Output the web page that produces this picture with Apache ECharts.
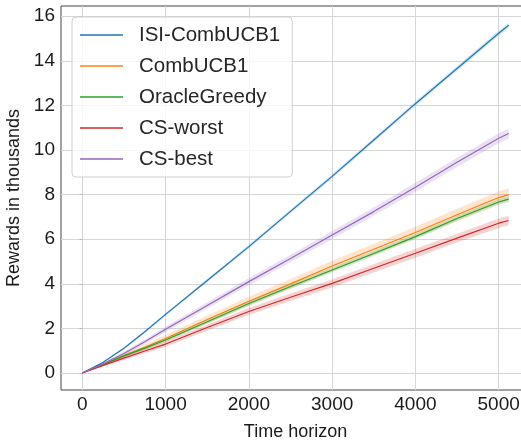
<!DOCTYPE html>
<html>
<head>
<meta charset="utf-8">
<script src="https://cdn.jsdelivr.net/npm/echarts@6/dist/echarts.min.js"></script>
<style>
  html, body { margin: 0; padding: 0; background: #fff; }
  #chart { width: 521px; height: 441px; }
</style>
</head>
<body>
<div id="chart"></div>
<script>
// Time steps at which the cumulative rewards are sampled
const timeSteps = [0, 250, 500, 750, 1000, 1500, 2000, 2500, 3000, 3500, 4000, 4500, 5000, 5120];

// Mean cumulative reward (thousands) for each method
const isiCombUCB1 = [0, 0.48, 1.11, 1.85, 2.63, 4.15, 5.67, 7.25, 8.82, 10.45, 12.08, 13.66, 15.24, 15.60];
const combUCB1    = [0, 0.38, 0.78, 1.16, 1.55, 2.40, 3.22, 4.00, 4.80, 5.55, 6.30, 7.10, 7.87, 8.00];
const oracleGreedy= [0, 0.38, 0.77, 1.12, 1.48, 2.30, 3.12, 3.88, 4.62, 5.36, 6.12, 6.93, 7.67, 7.80];
const csWorst     = [0, 0.34, 0.67, 0.99, 1.30, 2.04, 2.76, 3.40, 4.02, 4.70, 5.37, 6.05, 6.72, 6.84];
const csBest      = [0, 0.42, 0.88, 1.40, 1.96, 3.03, 4.10, 5.14, 6.19, 7.24, 8.33, 9.45, 10.53, 10.74];

// Half-width of the confidence band around each mean curve
const isiSpread    = [0, 0.03, 0.04, 0.05, 0.06, 0.07, 0.08, 0.08, 0.09, 0.09, 0.10, 0.10, 0.11, 0.11];
const combSpread   = [0, 0.06, 0.10, 0.13, 0.15, 0.18, 0.20, 0.22, 0.24, 0.25, 0.26, 0.27, 0.28, 0.28];
const oracleSpread = [0, 0.04, 0.06, 0.07, 0.08, 0.09, 0.10, 0.10, 0.11, 0.11, 0.12, 0.12, 0.13, 0.13];
const worstSpread  = [0, 0.05, 0.08, 0.10, 0.12, 0.14, 0.16, 0.17, 0.18, 0.19, 0.20, 0.20, 0.21, 0.21];
const bestSpread   = [0, 0.05, 0.08, 0.10, 0.12, 0.14, 0.16, 0.17, 0.18, 0.19, 0.20, 0.21, 0.22, 0.22];

const xTicks = [0, 1000, 2000, 3000, 4000, 5000];
const yTicks = [0, 2, 4, 6, 8, 10, 12, 14, 16];

const methods = [
  { name: 'ISI-CombUCB1', mean: isiCombUCB1, spread: isiSpread,    color: '#1f77b4' },
  { name: 'CombUCB1',     mean: combUCB1,    spread: combSpread,   color: '#ff7f0e' },
  { name: 'OracleGreedy', mean: oracleGreedy,spread: oracleSpread, color: '#2ca02c' },
  { name: 'CS-worst',     mean: csWorst,     spread: worstSpread,  color: '#d62728' },
  { name: 'CS-best',      mean: csBest,      spread: bestSpread,   color: '#9467bd' }
];

const FONT = "'Liberation Sans', Arial, sans-serif";

const series = [];
methods.forEach(function (m, k) {
  const bandData = timeSteps.map(function (t, i) {
    return [t, m.mean[i] - m.spread[i], m.mean[i] + m.spread[i]];
  });
  // shaded band: one polygon through the upper edge then back along the lower edge
  series.push({
    type: 'custom',
    name: m.name + ' band',
    coordinateSystem: 'cartesian2d',
    silent: true,
    z: 2 + k * 2,
    encode: { x: 0, y: [1, 2] },
    data: bandData,
    renderItem: function (params, api) {
      if (params.dataIndex !== 0) return null;
      const pts = [];
      bandData.forEach(function (d) { pts.push(api.coord([d[0], d[2]])); });
      for (let i = bandData.length - 1; i >= 0; i--) {
        pts.push(api.coord([bandData[i][0], bandData[i][1]]));
      }
      return {
        type: 'polygon',
        shape: { points: pts },
        style: { fill: m.color, opacity: 0.2 }
      };
    }
  });
  series.push({
    type: 'line',
    name: m.name,
    z: 3 + k * 2,
    data: timeSteps.map(function (t, i) { return [t, m.mean[i]]; }),
    showSymbol: false,
    symbol: 'none',
    lineStyle: { color: m.color, width: 1.2 },
    itemStyle: { color: m.color },
    animation: false
  });
});

const chart = echarts.init(document.getElementById('chart'), null, { renderer: 'canvas' });
chart.setOption({
  animation: false,
  backgroundColor: '#ffffff',
  textStyle: { fontFamily: FONT },
  grid: {
    left: 61, top: 6, right: -9, bottom: 51,
    containLabel: false,
    outerBoundsMode: 'none',
    show: true, borderColor: '#444', borderWidth: 1, backgroundColor: 'transparent'
  },
  legend: {
    orient: 'vertical',
    left: 72, top: 17,
    data: methods.map(function (m) { return m.name; }),
    icon: 'rect',
    itemWidth: 43, itemHeight: 1.5,
    itemGap: 7,
    padding: [6, 12, 6, 8],
    backgroundColor: 'rgba(255,255,255,0.8)',
    borderColor: '#d0d0d0', borderWidth: 1, borderRadius: 4,
    selectedMode: false,
    textStyle: { fontFamily: FONT, fontSize: 20.5, color: '#262626', lineHeight: 24, padding: [0, 0, 0, 11] },
    z: 20
  },
  xAxis: {
    type: 'value',
    min: -256, max: 5376,
    name: 'Time horizon',
    nameLocation: 'middle',
    nameGap: 33,
    nameTextStyle: { fontFamily: FONT, fontSize: 18, color: '#1a1a1a' },
    axisLine: { show: false },
    axisTick: { show: false, customValues: xTicks },
    axisLabel: {
      customValues: xTicks, fontFamily: FONT, fontSize: 19, color: '#1a1a1a', margin: 5,
      formatter: function (v) { return String(v); }
    },
    splitLine: { show: true, lineStyle: { color: '#d6d6d6', width: 1 } }
  },
  yAxis: {
    type: 'value',
    min: -0.76, max: 16.46,
    name: 'Rewards in thousands',
    nameLocation: 'middle',
    nameGap: 34,
    nameRotate: 90,
    nameTextStyle: { fontFamily: FONT, fontSize: 18, color: '#1a1a1a' },
    axisLine: { show: false },
    axisTick: { show: true, length: 3, customValues: yTicks, lineStyle: { color: '#bbb' } },
    axisLabel: {
      customValues: yTicks, fontFamily: FONT, fontSize: 19, color: '#1a1a1a', margin: 6,
      formatter: function (v) { return String(v); }
    },
    splitLine: { show: true, lineStyle: { color: '#d6d6d6', width: 1 } }
  },
  series: series
});
</script>
</body>
</html>
